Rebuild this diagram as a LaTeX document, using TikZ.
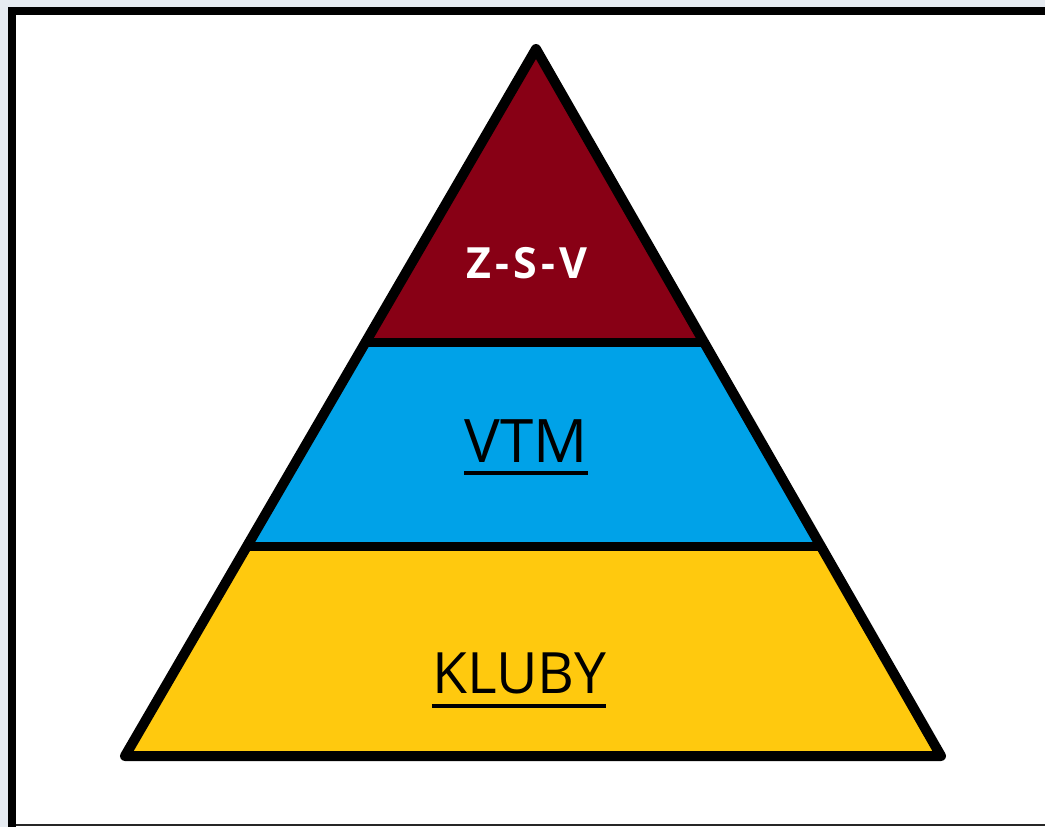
\documentclass[tikz,border=0pt]{standalone}
\usepackage{fontspec}
\setmainfont{Open Sans}
\usetikzlibrary{calc}
\definecolor{paintred}{HTML}{880015}
\definecolor{paintblue}{HTML}{00A2E8}
\definecolor{paintgold}{HTML}{FFC90E}
\definecolor{desk}{HTML}{E6EBF1}
\tikzset{
  edge/.style={line width=10pt, line join=round, line cap=round},
  divider/.style={line width=9pt},
  label/.style={inner sep=0pt, anchor=base},
  uline/.style={line width=4pt},
}
\begin{document}
\begin{tikzpicture}[x=1pt,y=-1pt]
  \useasboundingbox (0,0) rectangle (1045,827);
  % window backdrop and frame
  \fill[desk] (0,0) rectangle (1045,827);
  \fill[white] (8,7) rectangle (1045,827);
  \fill[black] (8,7) rectangle (1045,15);
  \fill[black] (8,7) rectangle (16,827);
  \draw[black!85, line width=2pt] (16,825) -- (1045,825);

  % pyramid corners
  \coordinate (A) at (536,49);
  \coordinate (B) at (125,756);
  \coordinate (C) at (941,756);
  % band boundaries on the sides
  \coordinate (L1) at ($(A)!{294/707}!(B)$);
  \coordinate (R1) at ($(A)!{294/707}!(C)$);
  \coordinate (L2) at ($(A)!{498/707}!(B)$);
  \coordinate (R2) at ($(A)!{498/707}!(C)$);

  % bands
  \fill[paintred]  (A) -- (L1) -- (R1) -- cycle;
  \fill[paintblue] (L1) -- (L2) -- (R2) -- (R1) -- cycle;
  \fill[paintgold] (L2) -- (B) -- (C) -- (R2) -- cycle;

  % outline and dividers
  \draw[divider] (L1) -- (R1);
  \draw[divider] (L2) -- (R2);
  \draw[edge] (A) -- (B) -- (C) -- cycle;

  % labels
  \node[label, text=white, font=\bfseries\fontsize{43}{43}\selectfont] (zsv) at (527,278)
    {Z\kern4pt-\kern4pt S\kern4pt-\kern4pt V};
  \node[label, font=\fontsize{60}{60}\selectfont] (vtm) at (526,462) {VTM};
  \draw[uline] ([yshift=-11pt]vtm.base west) -- ([yshift=-11pt]vtm.base east);
  \node[label, font=\fontsize{57}{57}\selectfont] (kluby) at (519,693) {KLUBY};
  \draw[uline] ([yshift=-13pt]kluby.base west) -- ([yshift=-13pt]kluby.base east);
\end{tikzpicture}
\end{document}
